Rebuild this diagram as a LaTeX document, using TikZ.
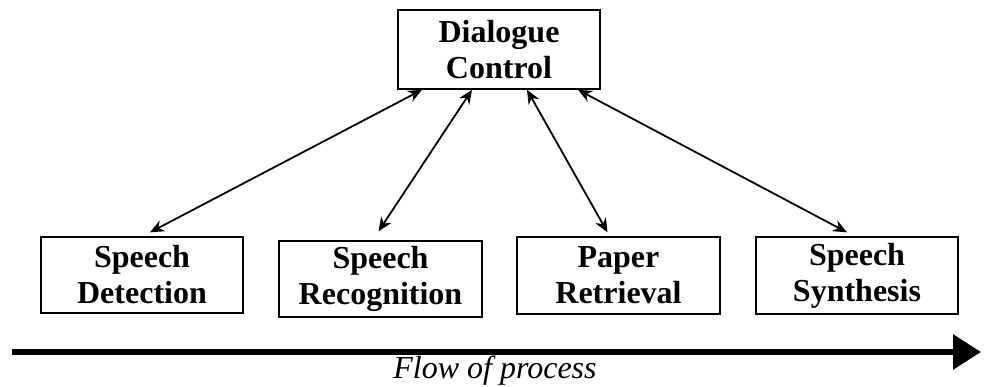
\documentclass[tikz,border=0pt]{standalone}
\usepackage{fontspec}
\setmainfont{Liberation Serif}
\usetikzlibrary{arrows.meta}
\begin{document}
\begin{tikzpicture}[x=1pt,y=-1pt,
  box/.style={draw,line width=1.3pt,minimum width=202pt,inner sep=0pt,align=center,
    font=\fontsize{32}{36}\selectfont\bfseries},
  link/.style={line width=1.8pt,{Stealth[length=14pt,width=12pt]}-{Stealth[length=14pt,width=12pt]}}]
\useasboundingbox (0,0) rectangle (984,387);
\node[box,minimum height=79pt,line width=1.6pt] (top) at (499,49.5) {Dialogue\\Control};
\node[box,minimum height=76pt] (b1) at (142,275) {Speech\\Detection};
\node[box,minimum height=76pt,minimum width=203pt] (b2) at (380.5,279) {Speech\\Recognition};
\node[box,minimum height=77pt,minimum width=203pt] (b3) at (618.5,275.5) {Paper\\Retrieval};
\node[box,minimum height=77pt] (b4) at (857,275.5) {Speech\\Synthesis};
\draw[link] ([xshift=8pt,yshift=4pt]b1.north) -- ([xshift=-77pt]top.south);
\draw[link] ([xshift=-2pt,yshift=9pt]b2.north) -- ([xshift=-27pt]top.south);
\draw[link] ([xshift=-11pt,yshift=4pt]b3.north) -- ([xshift=28pt]top.south);
\draw[link] ([xshift=-10pt,yshift=4pt]b4.north) -- ([xshift=79pt]top.south);
\coordinate (fs) at (12,352);
\coordinate (fe) at (981,352);
\draw[line width=6pt,-{Triangle[length=28pt,width=34pt]}] (fs) -- (fe);
\node[font=\fontsize{32}{36}\selectfont\itshape] (flow) at (495,371) {Flow of process};
\end{tikzpicture}
\end{document}
